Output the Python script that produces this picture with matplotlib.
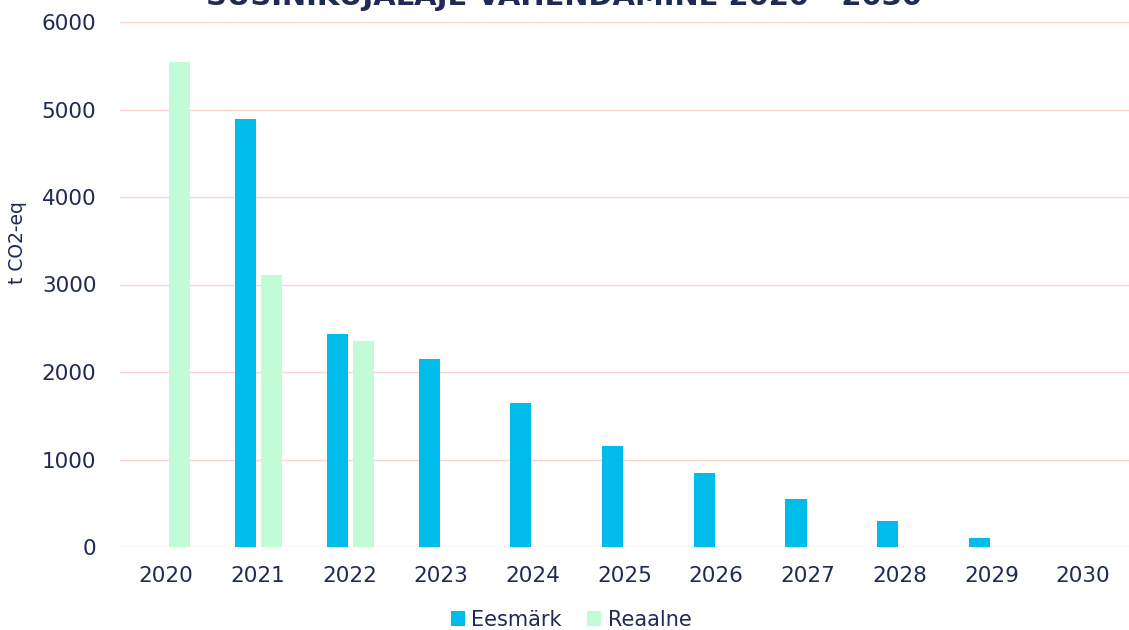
import numpy as np
import matplotlib
matplotlib.use("Agg")
import matplotlib.pyplot as plt

years = ["2020", "2021", "2022", "2023", "2024", "2025", "2026", "2027", "2028", "2029", "2030"]
eesmark = [0, 4890, 2440, 2150, 1650, 1150, 850, 550, 300, 100, 0]
reaalne = [5540, 3110, 2350, 0, 0, 0, 0, 0, 0, 0, 0]

navy = "#1f2b54"
plt.rcParams["font.family"] = ["DejaVu Sans"]

fig = plt.figure(figsize=(11.29, 6.30), dpi=100)
ax = fig.add_axes([120 / 1129, 1 - 547 / 630, 1009 / 1129, 525 / 630])

x = np.arange(len(years))
w = 0.23
ax.bar(x - 0.13, eesmark, w, color="#00bceb", label="Eesmärk", zorder=3)
ax.bar(x + 0.15, reaalne, w, color="#c2fcd6", label="Reaalne", zorder=3)

ax.set_xlim(-0.5, len(years) - 0.5)
ax.set_ylim(0, 6000)
ax.set_yticks(range(0, 6001, 1000))
ax.set_xticks(x)
ax.set_xticklabels(years)
ax.grid(axis="y", color="#f9d2d2", linewidth=1, zorder=0)
for s in ax.spines.values():
    s.set_visible(False)
ax.tick_params(length=0, labelsize=15.5, colors=navy, pad=14)
ax.tick_params(axis="y", pad=17)
ax.set_ylabel("t CO2-eq", fontsize=13.5, color=navy)
ax.yaxis.set_label_coords(-0.092, 0.58)

fig.text(0.5, 1 - 5 / 630, "SÜSINIKUJALAJE VÄHENDAMINE 2020 - 2030", ha="center", va="baseline",
         fontsize=20.9, fontweight="bold", color=navy)

ax.legend(loc="center", bbox_to_anchor=(0.447, -0.139), ncol=2, frameon=False,
          fontsize=15, labelcolor=navy, handlelength=0.7, handleheight=0.7,
          handletextpad=0.3, columnspacing=1.2)

fig.savefig("out.png", dpi=100)
